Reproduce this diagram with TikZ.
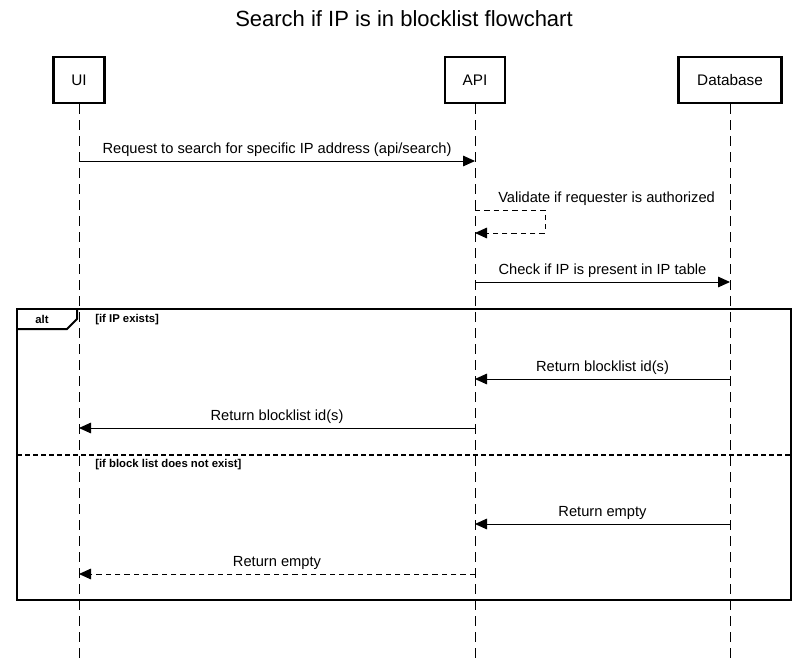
\documentclass[tikz,border=0pt]{standalone}
\usepackage{fontspec}
\setmainfont{Liberation Sans}
\usetikzlibrary{arrows.meta}

\tikzset{
  actor/.style={draw,line width=2pt,minimum height=46*0.75pt,inner sep=0pt,font=\fontsize{11.5}{13}\selectfont},
  life/.style={line width=0.75pt,dash pattern=on 7.5pt off 4.5pt},
  msg/.style={line width=0.75pt,-{Triangle[length=9pt,width=8pt]}},
  reply/.style={msg,dash pattern=on 4pt off 3pt},
  lbl/.style={font=\fontsize{11}{13}\selectfont,inner sep=0pt},
  guard/.style={font=\bfseries\fontsize{8.5}{10}\selectfont,inner sep=0pt,anchor=west}
}

\begin{document}
\begin{tikzpicture}[x=0.75pt,y=-0.75pt]
            \useasboundingbox (0,0) rectangle (808,662);
            \node[font=\fontsize{16.5}{19}\selectfont] at (404,19) (title) {Search if IP is in blocklist flowchart};
            \node[actor,minimum width=51*0.75pt] at (79,80) (ui) {UI};
            \node[actor,minimum width=60*0.75pt] at (475,80) (api) {API};
            \node[actor,minimum width=103*0.75pt] at (730,80) (db) {Database};
            \coordinate (uiend) at (79,662);
            \coordinate (apiend) at (475,662);
            \coordinate (dbend) at (730,662);
            \draw[life] (ui) -- (uiend);
            \draw[life] (api) -- (apiend);
            \draw[life] (db) -- (dbend);

            \coordinate (u1) at (79,161);
            \coordinate (a1) at (475,161);
            \coordinate (a2) at (475,210);
            \coordinate (s1) at (545,210);
            \coordinate (s2) at (545,233);
            \coordinate (a3) at (475,233);
            \coordinate (a4) at (475,282);
            \coordinate (d4) at (730,282);
            \coordinate (d5) at (730,379);
            \coordinate (a5) at (475,379);
            \coordinate (a6) at (475,428);
            \coordinate (u6) at (79,428);
            \coordinate (d7) at (730,524);
            \coordinate (a7) at (475,524);
            \coordinate (a8) at (475,574);
            \coordinate (u8) at (79,574);

            \draw[msg] (u1) -- (a1) node[lbl,midway,above=3pt] (m1) {Request to search for specific IP address (api/search)};
            \draw[reply] (a2) -- (s1) -- (s2) -- (a3);
            \node[lbl,anchor=west] at (498,199) (m2) {Validate if requester is authorized};
            \draw[msg] (a4) -- (d4) node[lbl,midway,above=3pt] (m3) {Check if IP is present in IP table};

            \draw[line width=1.5pt] (17,309) rectangle (791,600);
            \draw[line width=1.5pt] (17,329) -- (67,329) -- (77,319) -- (77,309);
            \node[font=\bfseries\fontsize{8.5}{10}\selectfont] at (42,319) (alt) {alt};
            \node[guard] at (95,320) (g1) {[if IP exists]};
            \draw[line width=1.5pt,dash pattern=on 3.5pt off 2.5pt] (17,455) -- (791,455);
            \node[guard] at (95,465) (g2) {[if block list does not exist]};

            \draw[msg] (d5) -- (a5) node[lbl,midway,above=3pt] (m4) {Return blocklist id(s)};
            \draw[msg] (a6) -- (u6) node[lbl,midway,above=3pt] (m5) {Return blocklist id(s)};
            \draw[msg] (d7) -- (a7) node[lbl,midway,above=3pt] (m6) {Return empty};
            \draw[reply] (a8) -- (u8) node[lbl,midway,above=3pt] (m7) {Return empty};
        \end{tikzpicture}
\end{document}
